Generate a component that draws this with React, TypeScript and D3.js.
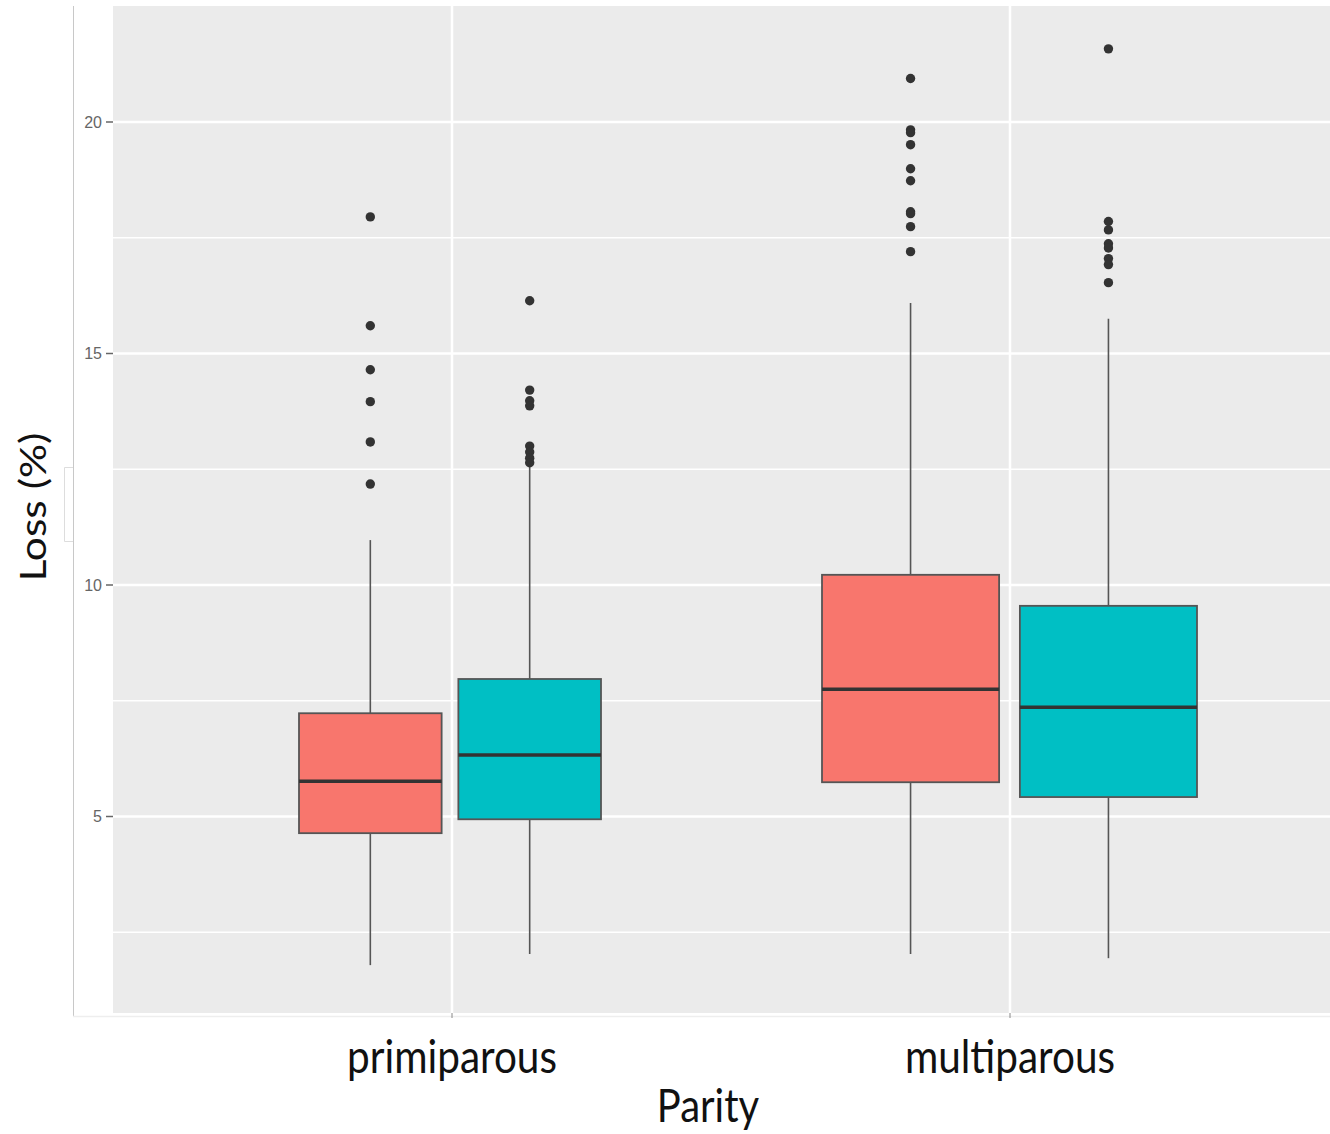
import React from "react";
import * as d3 from "d3";

const categories = ["primiparous", "multiparous"];
const series = ["A", "B"];
const seriesColors = ["#F8766D", "#00BFC4"];

// box stats per category x series: [whiskerLow, q1, median, q3, whiskerHigh]
const primiA = [1.79, 4.64, 5.76, 7.23, 10.97];
const primiB = [2.03, 4.94, 6.33, 7.97, 12.55];
const multiA = [2.03, 5.74, 7.75, 10.22, 16.09];
const multiB = [1.94, 5.42, 7.36, 9.55, 15.75];

const primiAOut = [17.95, 15.6, 14.65, 13.96, 13.09, 12.18];
const primiBOut = [16.14, 14.21, 13.98, 13.87, 13.0, 12.87, 12.74, 12.64];
const multiAOut = [20.94, 19.83, 19.77, 19.51, 18.99, 18.73, 18.06, 18.02, 17.74, 17.2];
const multiBOut = [21.58, 17.85, 17.67, 17.37, 17.28, 17.05, 16.92, 16.53];

const yTicks = [5, 10, 15, 20];
const yMinor = [2.5, 7.5, 12.5, 17.5];

const boxes = [
  { cat: "primiparous", s: 0, stats: primiA, out: primiAOut },
  { cat: "primiparous", s: 1, stats: primiB, out: primiBOut },
  { cat: "multiparous", s: 0, stats: multiA, out: multiAOut },
  { cat: "multiparous", s: 1, stats: multiB, out: multiBOut },
];

// dodge extent (offsets from category centre) for each category
const dodgeExtent: Record<string, [number, number]> = {
  primiparous: [-153, 149],
  multiparous: [-188, 187],
};

export default function App() {
  const W = 1330, H = 1134;
  const panel = { left: 113, right: 1330, top: 6, bottom: 1013 };
  const y = d3.scaleLinear().domain([10, 20]).range([585, 122]);
  const x = d3.scalePoint<string>().domain(categories).range([452, 1010]);
  const dodgeFor = (c: string) =>
    d3.scaleBand<string>().domain(series).range(dodgeExtent[c]).paddingInner(0.105);
  const font = "Lato, 'Open Sans', sans-serif";
  const tickFont = "'Liberation Sans', Arial, sans-serif";

  return (
    <svg width={W} height={H} style={{ position: "absolute", left: 0, top: 0, background: "#fff" }}>
      <rect x={panel.left} y={panel.top} width={panel.right - panel.left} height={panel.bottom - panel.top} fill="#EBEBEB" />
      {yMinor.map((t) => (
        <line key={"mi" + t} x1={panel.left} x2={panel.right} y1={y(t)} y2={y(t)} stroke="#fff" strokeWidth={1.5} />
      ))}
      {yTicks.map((t) => (
        <line key={"ma" + t} x1={panel.left} x2={panel.right} y1={y(t)} y2={y(t)} stroke="#fff" strokeWidth={2.5} />
      ))}
      {categories.map((c) => (
        <line key={"v" + c} x1={x(c)} x2={x(c)} y1={panel.top} y2={panel.bottom} stroke="#fff" strokeWidth={2.5} />
      ))}
      {/* outer frame artifacts */}
      <line x1={73.5} x2={73.5} y1={panel.top} y2={1016} stroke="#C8C8C8" strokeWidth={1} />
      <line x1={73} x2={W} y1={1016.5} y2={1016.5} stroke="#EEEEEE" strokeWidth={1.5} />
      <path d="M73,467.5 H64.5 V541.5 H73" fill="none" stroke="#DDDDDD" strokeWidth={1} />

      {boxes.map((b, i) => {
        const dodge = dodgeFor(b.cat);
        const bw = dodge.bandwidth();
        const left = (x(b.cat) as number) + (dodge(series[b.s]) as number);
        const cx = left + bw / 2;
        const [lo, q1, med, q3, hi] = b.stats;
        return (
          <g key={i}>
            <line x1={cx} x2={cx} y1={y(hi)} y2={y(q3)} stroke="#555" strokeWidth={1.6} />
            <line x1={cx} x2={cx} y1={y(q1)} y2={y(lo)} stroke="#555" strokeWidth={1.6} />
            <rect x={left} y={y(q3)} width={bw} height={y(q1) - y(q3)} fill={seriesColors[b.s]} stroke="#555" strokeWidth={1.8} />
            <line x1={left} x2={left + bw} y1={y(med)} y2={y(med)} stroke="#333" strokeWidth={3.5} />
            {b.out.map((o, j) => (
              <circle key={j} cx={cx} cy={y(o)} r={4.7} fill="#333" />
            ))}
          </g>
        );
      })}

      {yTicks.map((t) => (
        <g key={"t" + t}>
          <line x1={106} x2={113} y1={y(t)} y2={y(t)} stroke="#666" strokeWidth={1.5} />
          <text x={102} y={y(t)} dy="0.36em" textAnchor="end" fontSize={16} fill="#666" fontFamily={tickFont}>{t}</text>
        </g>
      ))}
      {categories.map((c) => (
        <g key={"xt" + c}>
          <line x1={x(c)} x2={x(c)} y1={panel.bottom} y2={panel.bottom + 5} stroke="#888" strokeWidth={1} />
          <text transform={`translate(${x(c)},1073) scale(1,1.15)`} textAnchor="middle" fontSize={40.5} fill="#111" fontFamily={font}>{c}</text>
        </g>
      ))}
      <text transform="translate(708,1122) scale(1,1.15)" textAnchor="middle" fontSize={40} fill="#111" fontFamily={font}>Parity</text>
      <text transform="translate(46,507) rotate(-90) scale(1.15,1)" textAnchor="middle" fontSize={37} fill="#111" fontFamily={font}>Loss (%)</text>
    </svg>
  );
}
